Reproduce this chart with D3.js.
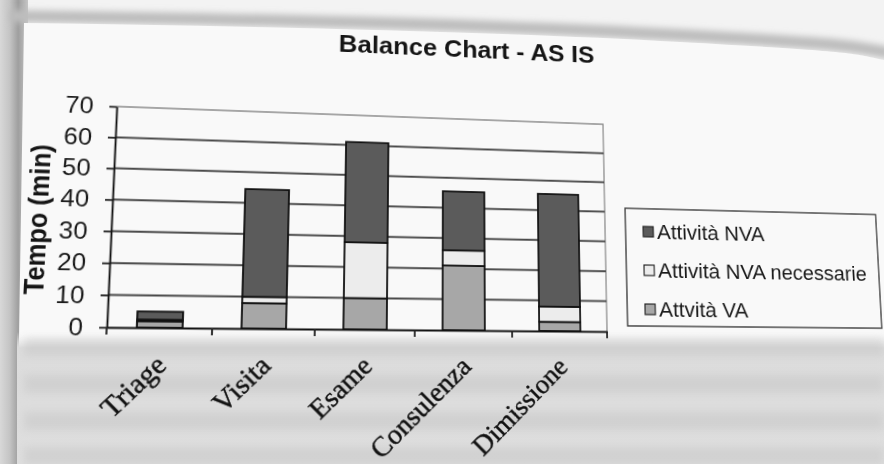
<!DOCTYPE html>
<html>
<head>
<meta charset="utf-8">
<script src="https://cdn.jsdelivr.net/npm/d3@7"></script>
<style>
  html, body { margin: 0; padding: 0; width: 884px; height: 464px; overflow: hidden; background: #efefef; }
  svg { position: absolute; left: 0; top: 0; }
  #chart { transform-origin: 0 0; }
</style>
</head>
<body>
<svg id="paper" width="884" height="464"></svg>
<svg id="chart" width="960" height="500"></svg>
<script>
// ---- data ----
const categories = ["Triage", "Visita", "Esame", "Consulenza", "Dimissione"];
const attivitaVA = [2, 8, 10, 21, 3];
const attivitaNVANecessarie = [0.5, 2, 18, 5, 5];
const attivitaNVA = [2.5, 34.5, 33, 19.5, 37.5];
const yTicks = [0, 10, 20, 30, 40, 50, 60, 70];
const legendLabels = ["Attività NVA", "Attività NVA necessarie", "Attvità VA"];

// ---- styling ----
const fills = { va: "#a7a7a7", nec: "#ececec", nva: "#5b5b5b" };
const legendKeys = ["nva", "nec", "va"];
const sans = "'Liberation Sans', Arial, sans-serif";
const serif = "'Liberation Serif', 'Times New Roman', serif";

// ---- the printed page under the chart ----
const paper = d3.select("#paper");
const defs = paper.append("defs");
const edgeGrad = defs.append("linearGradient").attr("id", "edge").attr("x1", 0).attr("x2", 1);
[[0, "#d8d8d8"], [0.35, "#c4c4c4"], [0.65, "#9f9f9f"], [1, "#c6c6c6"]]
  .forEach(([o, c]) => edgeGrad.append("stop").attr("offset", o).attr("stop-color", c));
const fadeGrad = defs.append("linearGradient").attr("id", "fade").attr("x1", 0).attr("x2", 0).attr("y1", 0).attr("y2", 1);
[[0, "#f8f8f8", 0], [0.12, "#dcdcdc", 1], [1, "#dedede", 1]]
  .forEach(([o, c, a]) => fadeGrad.append("stop").attr("offset", o).attr("stop-color", c).attr("stop-opacity", a));
defs.append("filter").attr("id", "soft").attr("x", "-10%").attr("y", "-50%").attr("width", "120%").attr("height", "200%")
  .append("feGaussianBlur").attr("stdDeviation", 3);
defs.append("filter").attr("id", "softer").attr("x", "-10%").attr("y", "-50%").attr("width", "120%").attr("height", "200%")
  .append("feGaussianBlur").attr("stdDeviation", 4);

paper.append("rect").attr("width", 884).attr("height", 464).attr("fill", "#f3f3f3");
paper.append("rect").attr("x", 0).attr("y", 0).attr("width", 28).attr("height", 464).attr("fill", "url(#edge)");
paper.append("path")
  .attr("d", "M10,16 C250,19 500,25 680,35 S850,46 890,53")
  .attr("fill", "none").attr("stroke", "#bdbdbd").attr("stroke-width", 12).attr("filter", "url(#soft)");
paper.append("path")
  .attr("d", "M24,23 C250,26 500,32 680,42 S850,53 884,60 L884,464 L17,464 Z")
  .attr("fill", "#f9f9f9");
// ink showing through from the back of the sheet
paper.append("rect").attr("x", 17).attr("y", 332).attr("width", 867).attr("height", 132)
  .attr("fill", "url(#fade)");
[347, 384, 421, 456].forEach(cy => {
  paper.append("rect").attr("x", 24).attr("y", cy - 9).attr("width", 860).attr("height", 18)
    .attr("fill", "#c2c2c2").attr("opacity", 0.45).attr("filter", "url(#softer)");
});

// ---- chart (drawn flat, then laid onto the tilted sheet) ----
const svg = d3.select("#chart");
const L = 110, R = 605, T = 110, B = 330;

const x = d3.scaleBand().domain(categories).range([L, R]).paddingInner(0.566).paddingOuter(0.283);
const y = d3.scaleLinear().domain([0, 70]).range([B, T]);

svg.append("text")
  .attr("x", 462).attr("y", 43)
  .attr("text-anchor", "middle")
  .attr("font-family", sans).attr("font-weight", "bold").attr("font-size", 26.5)
  .attr("fill", "#151515")
  .text("Balance Chart - AS IS");

// plot frame: top and right edges
svg.append("path")
  .attr("d", `M${L},${y(70)} H${R} V${B}`)
  .attr("fill", "none").attr("stroke", "#8a8a8a").attr("stroke-width", 1.3);

// horizontal gridlines
svg.append("g").selectAll("line")
  .data(yTicks.filter(v => v > 0 && v < 70))
  .join("line")
  .attr("x1", L).attr("x2", R)
  .attr("y1", d => y(d)).attr("y2", d => y(d))
  .attr("stroke", "#4a4a4a").attr("stroke-width", 2);

// y axis
const yAxis = svg.append("g")
  .attr("transform", `translate(${L},0)`)
  .call(d3.axisLeft(y).tickValues(yTicks).tickSize(7).tickSizeOuter(0).tickPadding(15));
yAxis.select(".domain").attr("stroke", "#111").attr("stroke-width", 1.8);
yAxis.selectAll(".tick line").attr("stroke", "#222").attr("stroke-width", 1.8);
yAxis.selectAll(".tick text")
  .attr("font-family", sans).attr("font-size", 24).attr("fill", "#1a1a1a");

svg.append("text")
  .attr("transform", `translate(50,225) rotate(-90)`)
  .attr("text-anchor", "middle")
  .attr("font-family", sans).attr("font-weight", "bold").attr("font-size", 25)
  .attr("fill", "#151515")
  .text("Tempo (min)");

// stacked bars
const rows = categories.map((c, i) => ({
  cat: c, va: attivitaVA[i], nec: attivitaNVANecessarie[i], nva: attivitaNVA[i]
}));
const layers = d3.stack().keys(["va", "nec", "nva"])(rows);

svg.append("g").selectAll("g")
  .data(layers)
  .join("g")
  .attr("fill", d => fills[d.key])
  .selectAll("rect")
  .data(d => d)
  .join("rect")
  .attr("x", d => x(d.data.cat))
  .attr("y", d => y(d[1]))
  .attr("width", x.bandwidth())
  .attr("height", d => y(d[0]) - y(d[1]))
  .attr("stroke", "#111").attr("stroke-width", 1.8);

// x axis with ticks between categories
const xAxis = svg.append("g")
  .attr("transform", `translate(0,${B})`)
  .call(d3.axisBottom(x).tickSize(0).tickSizeOuter(0).tickFormat(""));
xAxis.select(".domain").attr("stroke", "#111").attr("stroke-width", 1.8);
xAxis.selectAll(".tick").remove();
xAxis.selectAll("line.sep")
  .data(d3.range(categories.length + 1))
  .join("line")
  .attr("class", "sep")
  .attr("x1", i => x.range()[0] + i * x.step())
  .attr("x2", i => x.range()[0] + i * x.step())
  .attr("y1", 0).attr("y2", 7)
  .attr("stroke", "#222").attr("stroke-width", 1.8);

svg.append("g").selectAll("text")
  .data(categories)
  .join("text")
  .attr("transform", d => `translate(${x(d) + x.bandwidth() / 2 + 9},${B + 38}) rotate(-45)`)
  .attr("text-anchor", "end")
  .attr("font-family", serif).attr("font-size", 27.5)
  .attr("fill", "#111")
  .attr("stroke", "#111").attr("stroke-width", 0.4)
  .text(d => d);

// legend
const lg = svg.append("g");
lg.append("rect")
  .attr("x", 627).attr("y", 200).attr("width", 280).attr("height", 124)
  .attr("fill", "none").attr("stroke", "#3a3a3a").attr("stroke-width", 1.4);
const items = lg.selectAll("g.item")
  .data(legendKeys)
  .join("g").attr("class", "item")
  .attr("transform", (d, i) => `translate(646,${232 + i * 41})`);
items.append("rect")
  .attr("x", 0).attr("y", -13).attr("width", 11).attr("height", 11)
  .attr("fill", d => fills[d]).attr("stroke", "#222").attr("stroke-width", 1.2);
items.append("text")
  .attr("x", 15).attr("y", 0)
  .attr("font-family", sans).attr("font-size", 22.5).attr("fill", "#1a1a1a")
  .text((d, i) => legendLabels[i]);

// ---- lay the flat chart onto the tilted sheet (projective warp) ----
// where the four plot corners fall on the sheet: top-left, top-right, bottom-right, bottom-left
const plotCorners = [[116.7, 106.5], [603, 124.3], [607, 331.5], [106.7, 327.3]];
function squareToQuad(q) {
  const [[x0, y0], [x1, y1], [x2, y2], [x3, y3]] = q;
  const dx1 = x1 - x2, dx2 = x3 - x2, dy1 = y1 - y2, dy2 = y3 - y2;
  const sx = x0 - x1 + x2 - x3, sy = y0 - y1 + y2 - y3;
  const det = dx1 * dy2 - dx2 * dy1;
  const g = (sx * dy2 - dx2 * sy) / det;
  const h = (dx1 * sy - sx * dy1) / det;
  return [
    [x1 - x0 + g * x1, x3 - x0 + h * x3, x0],
    [y1 - y0 + g * y1, y3 - y0 + h * y3, y0],
    [g, h, 1]
  ];
}
function mul(A, Bm) {
  return A.map((row, i) => Bm[0].map((_, j) => row.reduce((s, v, k) => s + v * Bm[k][j], 0)));
}
const W = R - L, Hh = B - T;
const S = [[1 / W, 0, -L / W], [0, 1 / Hh, -T / Hh], [0, 0, 1]];
const M = mul(squareToQuad(plotCorners), S);
const m3d = [M[0][0], M[1][0], 0, M[2][0], M[0][1], M[1][1], 0, M[2][1], 0, 0, 1, 0, M[0][2], M[1][2], 0, M[2][2]];
document.getElementById("chart").style.transform = `matrix3d(${m3d.join(",")})`;
</script>
</body>
</html>
